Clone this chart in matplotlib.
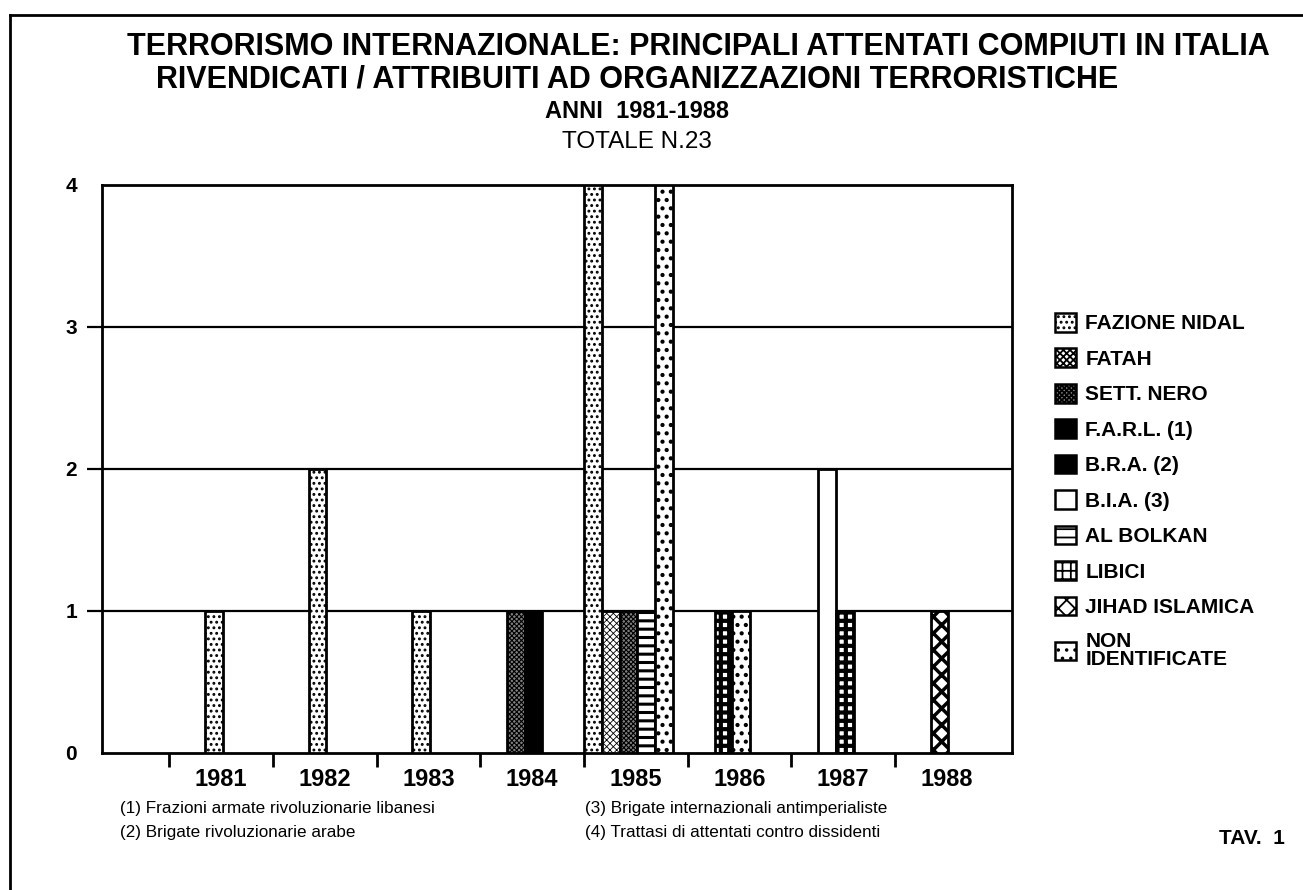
import matplotlib
matplotlib.use("Agg")
import matplotlib.pyplot as plt
from matplotlib.patches import Patch
from matplotlib.lines import Line2D
import numpy as np

plt.rcParams['font.family'] = ['Liberation Sans', 'DejaVu Sans']
plt.rcParams['hatch.linewidth'] = 1.3

years = ['1981', '1982', '1983', '1984', '1985', '1986', '1987', '1988']

# numero attentati per organizzazione e anno
fazione_nidal = [1, 2, 1, 0, 4, 0, 0, 0]
fatah = [0, 0, 0, 0, 1, 0, 0, 0]
sett_nero = [0, 0, 0, 1, 1, 0, 0, 0]
farl = [0, 0, 0, 1, 0, 0, 0, 0]
bra = [0, 0, 0, 0, 0, 0, 0, 0]
bia = [0, 0, 0, 0, 0, 0, 2, 0]
al_bolkan = [0, 0, 0, 0, 1, 0, 0, 0]
libici = [0, 0, 0, 0, 0, 1, 1, 0]
jihad = [0, 0, 0, 0, 0, 0, 0, 1]
non_ident = [0, 0, 0, 0, 4, 1, 0, 0]

labels = ['FAZIONE NIDAL', 'FATAH', 'SETT. NERO', 'F.A.R.L. (1)', 'B.R.A. (2)',
          'B.I.A. (3)', 'AL BOLKAN', 'LIBICI', 'JIHAD ISLAMICA', 'NON\nIDENTIFICATE']
series = [fazione_nidal, fatah, sett_nero, farl, bra, bia, al_bolkan, libici, jihad, non_ident]

faces = ['white', 'white', '#808080', 'black', 'black', 'white', 'white', 'white', 'white', 'white']
hatches = ['...', 'xxxxx', 'xxxxxxx', None, None, None, '--', '++', 'xx', '..']
hatch_lw = [1.3, 0.6, 0.8, 1.3, 1.3, 1.3, 2.2, 3.0, 2.5, 1.8]


def set_hlw(p, lw):
    if hasattr(p, 'set_hatch_linewidth'):
        p.set_hatch_linewidth(lw)


fig = plt.figure(figsize=(13.03, 8.9), dpi=100)
ax = fig.add_axes([102 / 1303, 1 - 753 / 890, 910 / 1303, 568 / 890])

w = 0.17
shift = -0.07
for j in range(len(years)):
    nz = [k for k in range(len(series)) if series[k][j] > 0]
    n = len(nz)
    for m, k in enumerate(nz):
        x = j + shift + (m - (n - 1) / 2) * w
        bars = ax.bar(x, series[k][j], width=w, color=faces[k], edgecolor='black',
                      hatch=hatches[k], linewidth=2, zorder=3)
        for b in bars:
            set_hlw(b, hatch_lw[k])

ax.set_ylim(0, 4)
ax.set_xlim(-1.147, 7.628)
for y in [1, 2, 3]:
    ax.axhline(y, color='black', lw=1.6, zorder=1)

ax.set_yticks([0, 1, 2, 3, 4])
ax.set_yticklabels(['0', '1', '2', '3', '4'], fontsize=15, fontweight='bold')
ax.tick_params(axis='y', length=11, width=1.6, pad=7)
yt = ax.yaxis.get_major_ticks()
yt[0].tick1line.set_visible(False)
yt[-1].tick1line.set_visible(False)

ax.set_xticks(np.arange(len(years)) - 0.5)
ax.set_xticklabels([])
ax.tick_params(axis='x', which='major', length=10, width=2)
ax.set_xticks(np.arange(len(years)), minor=True)
ax.set_xticklabels(years, minor=True, fontsize=17, fontweight='bold')
ax.tick_params(axis='x', which='minor', length=0, pad=11)

for s in ax.spines.values():
    s.set_linewidth(2)

handles = []
for k in range(len(series)):
    h = Patch(facecolor=faces[k], edgecolor='black', hatch=hatches[k], linewidth=1.8)
    set_hlw(h, hatch_lw[k])
    handles.append(h)
leg = fig.legend(handles, labels, loc='upper left', bbox_to_anchor=(1055 / 1303, 1 - 313 / 890),
                 frameon=False, handlelength=1.0, handleheight=1.0, handletextpad=0.45,
                 labelspacing=0.72, borderpad=0, borderaxespad=0,
                 prop={'size': 15, 'weight': 'bold'})
for t in leg.get_texts():
    t.set_linespacing(0.95)

fig.text(698 / 1303, 1 - 47 / 890, 'TERRORISMO INTERNAZIONALE: PRINCIPALI ATTENTATI COMPIUTI IN ITALIA',
         ha='center', va='center', fontsize=22, fontweight='bold')
fig.text(637 / 1303, 1 - 80 / 890, 'RIVENDICATI / ATTRIBUITI AD ORGANIZZAZIONI TERRORISTICHE',
         ha='center', va='center', fontsize=22, fontweight='bold')
fig.text(637 / 1303, 1 - 112 / 890, 'ANNI  1981-1988',
         ha='center', va='center', fontsize=17, fontweight='bold')
fig.text(637 / 1303, 1 - 142 / 890, 'TOTALE N.23',
         ha='center', va='center', fontsize=17.5)

fig.text(120 / 1303, 1 - 808 / 890, '(1) Frazioni armate rivoluzionarie libanesi', va='center', fontsize=12.3)
fig.text(120 / 1303, 1 - 832 / 890, '(2) Brigate rivoluzionarie arabe', va='center', fontsize=12.3)
fig.text(585 / 1303, 1 - 808 / 890, '(3) Brigate internazionali antimperialiste', va='center', fontsize=12.3)
fig.text(585 / 1303, 1 - 832 / 890, '(4) Trattasi di attentati contro dissidenti', va='center', fontsize=12.3)
fig.text(1285 / 1303, 1 - 838 / 890, 'TAV.  1', ha='right', va='center', fontsize=15, fontweight='bold')

# cornice
fig.add_artist(Line2D([10 / 1303, 10 / 1303], [0, 1 - 15 / 890], color='black', lw=2))
fig.add_artist(Line2D([10 / 1303, 1], [1 - 15 / 890, 1 - 15 / 890], color='black', lw=2))

fig.savefig('out.png', dpi=100)
